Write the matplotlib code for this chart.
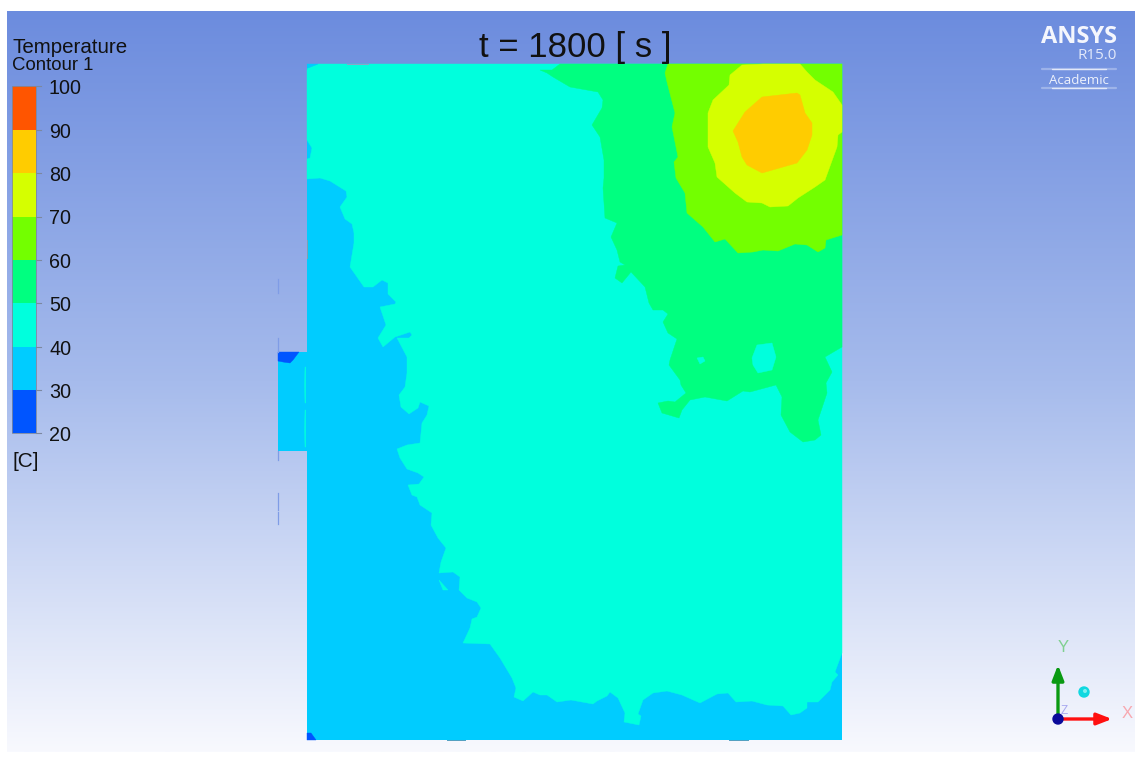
import numpy as np
import matplotlib
matplotlib.use("Agg")
import matplotlib.pyplot as plt
from matplotlib.colors import LinearSegmentedColormap
from matplotlib.patches import Circle, Rectangle

plt.rcParams['font.family'] = ['Liberation Sans', 'DejaVu Sans']

levels = [100, 90, 80, 70, 60, 50, 40, 30, 20]
level_y = [86, 129.5, 173, 216.5, 260, 303, 347, 390, 433]
band_colors = ['#ff5500', '#ffcc00', '#d5ff00', '#73ff00', '#00ff80', '#00ffdd', '#00ccff', '#0055ff']
C30, C40, C50, C60, C70, C80 = '#00ccff', '#00ffdd', '#00ff80', '#73ff00', '#d5ff00', '#ffcc00'
C20 = '#0055ff'

# Domain outline (image coordinates)
domain_x = [307, 842]
domain_y = [64, 740]

# Isotherm outlines
iso40 = [(318,64),(308,68),(307,70),(307,140),(312,148),(310,158),(307,159),(307,179),(320,178),(330,181),(346,191),
 (347,197),(340,207),(345,219),(352,224),(354,233),(354,243),(350,267),(357,277),(364,287),(373,287),(382,280),
 (388,283),(388,294),(396,302),(395,304),(380,307),(386,325),(378,338),(383,347),(395,337),(410,332),(412,335),
 (409,338),(397,338),(407,357),(407,373),(405,387),(399,395),(401,407),(409,414),(418,408),(420,402),(429,406),
 (427,415),(422,423),(420,443),(407,445),(397,449),(400,458),(407,469),(418,473),(424,477),(419,484),(408,485),
 (412,495),(417,497),(420,505),(432,513),(431,525),(438,538),(446,548),(441,562),(439,573),(453,572),(460,577),
 (459,590),(467,598),(477,602),(481,608),(477,617),(472,619),(470,628),(463,643),(490,644),(500,658),(512,678),
 (516,688),(514,697),(523,701),(533,692),(540,695),(547,695),(557,702),(571,700),(593,704),(597,701),(607,696),
 (610,692),(618,698),(625,713),(624,722),(639,725),(641,716),(638,714),(643,700),(653,693),(667,691),(682,695),
 (700,703),(717,694),(728,693),(736,702),(752,701),(767,705),(783,706),(791,715),(800,713),(807,708),(807,702),
 (818,702),(830,690),(832,682),(838,675),(835,672),(842,653),(842,64)]
iso40_island = [(439,580),(448,590),(443,590)]
iso50 = [(560,64),(552,70),(540,70),(547,73),(553,77),(570,87),(598,92),(603,100),(602,108),(592,125),(600,137),
 (604,160),(604,178),(603,188),(605,218),(617,223),(611,237),(617,250),(620,262),(625,265),(618,266),(615,278),
 (622,283),(631,272),(645,287),(649,303),(653,310),(663,310),(668,314),(663,322),(668,333),(677,339),(670,360),
 (669,365),(680,380),(681,385),(686,393),(675,402),(668,401),(658,403),(662,413),(679,418),(682,410),(690,400),
 (705,397),(727,401),(743,391),(750,392),(776,385),(782,397),(781,415),(790,432),(803,442),(815,440),(821,435),
 (818,420),(827,393),(826,383),(832,372),(825,357),(842,347),(842,64)]
iso50_hole_a = [(752,358),(757,345),(772,343),(776,357),(772,370),(758,373),(753,365)]
iso50_hole_b = [(697,358),(703,357),(705,361),(700,364)]
iso60 = [(668,64),(665,73),(667,82),(675,113),(672,127),(678,157),(674,162),(676,178),(685,193),(687,213),(703,227),
 (715,242),(725,239),(738,253),(753,252),(763,250),(778,251),(795,244),(807,245),(818,252),(825,248),(826,240),
 (842,235),(842,64)]
iso70 = [(730,75),(742,65),(763,64),(800,64),(807,72),(815,80),(833,92),(842,105),(842,132),(838,135),(837,147),
 (825,180),(815,187),(798,198),(788,206),(770,207),(762,203),(747,202),(735,193),(717,177),(715,163),(708,147),
 (708,113),(713,100),(729,85)]
iso80 = [(762,97),(797,93),(800,95),(805,113),(812,123),(812,135),(807,150),(797,163),(762,173),(747,165),(742,157),
 (738,142),(733,131),(745,112)]
corner_top = [(307,64),(318,64),(308,68)]
corner_bottom = [(307,733),(311,733),(316,740),(307,740)]

# Inlet duct on the left wall
inlet_x = [278, 307]
inlet_y = [352, 451]
inlet_cold = [(278,352),(299,352),(293,360),(290,363),(283,362),(278,361)]
inlet_slivers = [[(305,367),(304.5,385),(305,403),(305.8,403),(305.8,367)], [(305,410),(304.5,430),(305,447),(305.8,447),(305.8,410)]]
wall_ticks = [(279,293),(338,352),(451,460),(493,510),(512,524)]

title = 't = 1800 [ s ]'
legend_title = 'Temperature'
legend_sub = 'Contour 1'
unit = '[C]'

fig = plt.figure(figsize=(11.35, 7.7), dpi=100)
ax = fig.add_axes([0, 0, 1, 1])
ax.axis('off')

bg = LinearSegmentedColormap.from_list('bg', ['#6c8cde', '#a6bbec', '#f8f9fe'])
ax.imshow(np.linspace(0, 1, 256)[:, None], cmap=bg, extent=[7, 1135, 752, 11], aspect='auto', zorder=0)
ax.set_xlim(0, 1135)
ax.set_ylim(770, 0)

def poly(pts, color, z=2):
    xs, ys = zip(*pts)
    ax.fill(xs, ys, color=color, lw=0.3, zorder=z)

ax.add_patch(Rectangle((domain_x[0], domain_y[0]), domain_x[1]-domain_x[0], domain_y[1]-domain_y[0], color=C30, lw=0, zorder=1))
poly(iso40, C40, 2)
poly(iso40_island, C40, 2)
poly(corner_top, C30, 3)
poly(corner_bottom, C20, 3)
poly(iso50, C50, 3)
poly(iso50_hole_a, C40, 4)
poly(iso50_hole_b, C40, 4)
poly(iso60, C60, 4)
poly(iso70, C70, 5)
poly(iso80, C80, 6)

ax.add_patch(Rectangle((inlet_x[0], inlet_y[0]), inlet_x[1]-inlet_x[0], inlet_y[1]-inlet_y[0], color=C30, lw=0, zorder=1))
poly(inlet_cold, C20, 2)
for s in inlet_slivers:
    poly(s, C40, 2)
for a, b in wall_ticks:
    ax.plot([278, 278], [a, b], color='#7f9ce6', lw=0.9, zorder=2)
# Grey mesh edge marks
for a, b in [(447, 465), (729, 748)]:
    ax.plot([a, b], [739.7, 739.7], color='#4f9fc0', lw=0.7, zorder=7)
ax.plot([347, 368], [63.7, 63.7], color='#8fa3c8', lw=0.7, zorder=7)
ax.plot([307, 307], [240, 258], color='#80a0b0', lw=0.7, zorder=7)

# Legend bar
for top, bot, c in zip(level_y[:-1], level_y[1:], band_colors):
    ax.add_patch(Rectangle((12, top), 24, bot-top, color=c, lw=0, zorder=3))
ax.plot([12, 12, 36, 36, 12], [level_y[0], level_y[-1], level_y[-1], level_y[0], level_y[0]], color='#7c88a0', lw=0.6, zorder=4)
for v, y in zip(levels, level_y):
    ax.plot([36, 41], [y, y], color='#7c88a0', lw=0.8, zorder=4)
    ax.text(49, y+2.5, str(v), fontsize=14.2, color='#111111', va='center', ha='left', zorder=5)

ax.text(12.5, 53, legend_title, fontsize=14.8, color='#111111', va='baseline', ha='left')
ax.text(12, 70, legend_sub, fontsize=13.4, color='#111111', va='baseline', ha='left')
ax.text(12, 467, unit, fontsize=15, color='#111111', va='baseline', ha='left')
ax.text(479, 57, title, fontsize=25, color='#111111', va='baseline', ha='left')

# Logo
ax.text(1117, 43, 'ANSYS', fontsize=17, fontweight='bold', family=['Open Sans', 'DejaVu Sans'], color='#f4f6fd', ha='right', va='baseline')
ax.text(1117, 59, 'R15.0', fontsize=11, family=['Open Sans', 'DejaVu Sans'], color='#e3e9fa', ha='right', va='baseline')
ax.text(1079, 84, 'Academic', fontsize=9.5, family=['Open Sans', 'DejaVu Sans'], color='#eef2fc', ha='center', va='baseline')
for ly in (69, 88):
    ax.plot([1042, 1116], [ly, ly], color='#e9eefb', lw=1.6, alpha=0.35, zorder=3, solid_capstyle='round')
    ax.plot([1052, 1106], [ly, ly], color='#f4f6fd', lw=1.0, alpha=0.8, zorder=3, solid_capstyle='round')

# Axis triad
ax.annotate('', xy=(1058, 665), xytext=(1058, 719), zorder=6,
            arrowprops=dict(arrowstyle='-|>,head_width=0.35,head_length=0.9', color='#0a9a12', lw=2.4, shrinkA=0, shrinkB=0))
ax.annotate('', xy=(1112, 719), xytext=(1058, 719), zorder=6,
            arrowprops=dict(arrowstyle='-|>,head_width=0.35,head_length=0.9', color='#ff1010', lw=2.4, shrinkA=0, shrinkB=0))
ax.add_patch(Circle((1058, 719), 5, color='#0a0a9a', zorder=8))
ax.add_patch(Circle((1084, 692), 5, color='#10d8e0', zorder=8))
ax.add_patch(Circle((1085, 691), 2, color='#7ff0f0', lw=0, zorder=9))
ax.text(1063, 648, 'Y', fontsize=12, color='#80d090', ha='center', va='center')
ax.text(1127, 713, 'X', fontsize=12, color='#f8a8b0', ha='center', va='center')
ax.text(1064, 711, 'Z', fontsize=8.5, color='#a8a8f0', ha='center', va='center', zorder=5)

fig.savefig('out.png', dpi=100)
